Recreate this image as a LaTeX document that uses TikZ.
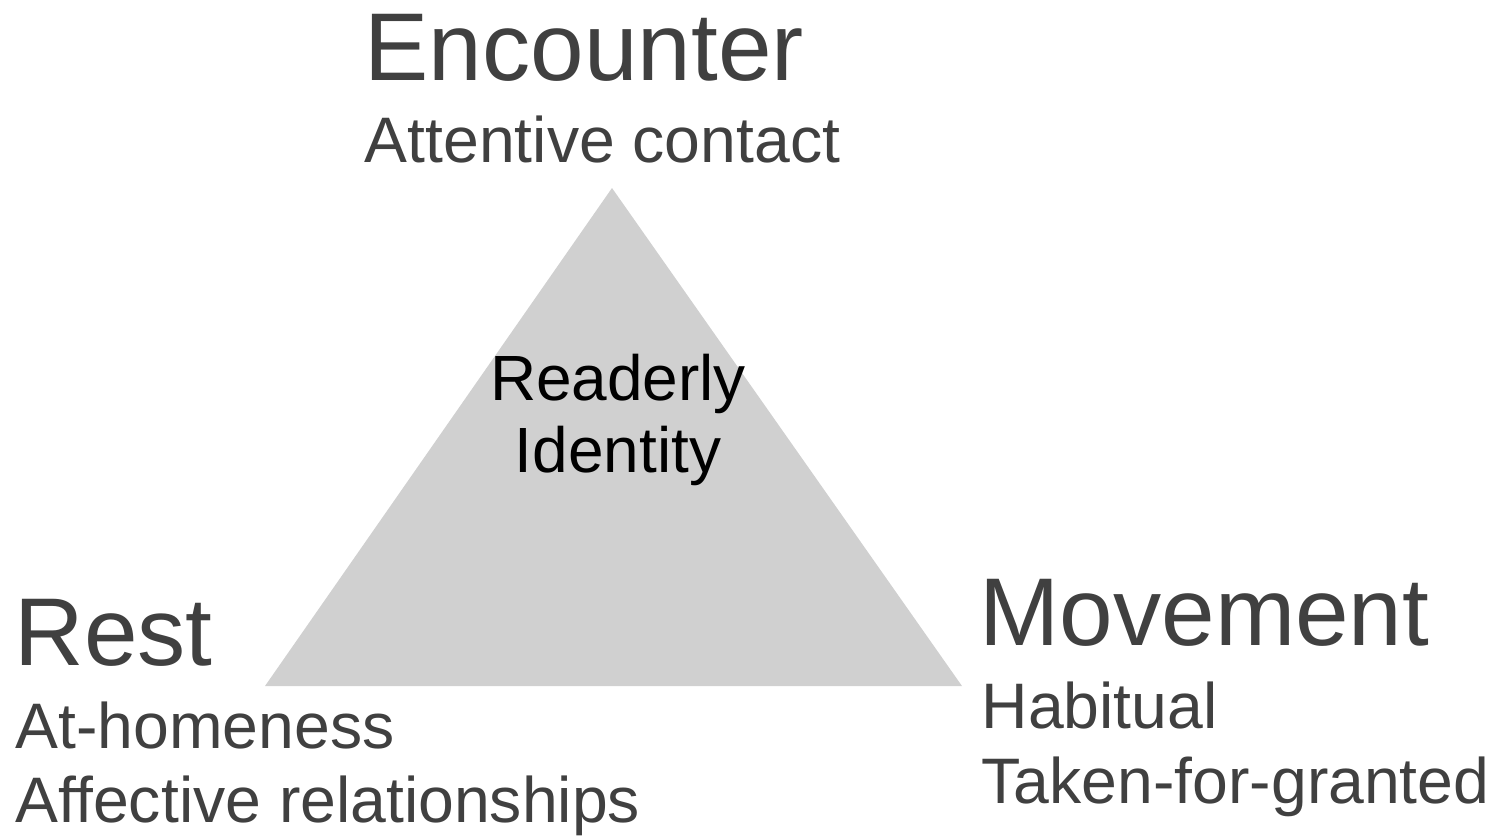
\documentclass[tikz,border=0pt]{standalone}
\usepackage{fontspec}
\setmainfont{Liberation Sans}
\usepackage{tikz}
\pgfdeclarelayer{edgelayer}
\pgfdeclarelayer{nodelayer}
\pgfsetlayers{edgelayer,nodelayer,main}
\definecolor{txtgrey}{HTML}{404040}
\definecolor{trifill}{HTML}{D0D0D0}
\tikzstyle{none} = [inner sep=0pt]
\tikzstyle{head} = [inner sep=0pt, anchor=base west, text=txtgrey, font=\fontsize{27.4}{32}\selectfont]
\tikzstyle{sub} = [inner sep=0pt, anchor=base west, text=txtgrey, font=\fontsize{18.3}{21}\selectfont]
\tikzstyle{core} = [inner sep=0pt, anchor=base, text=black, font=\fontsize{18.2}{21}\selectfont]

\begin{document}
\begin{tikzpicture}
	\useasboundingbox (0, 0) rectangle (15, -8.36);
	\begin{pgfonlayer}{nodelayer}
		\node [style=none] (top) at (6.12, -1.88) {};
		\node [style=none] (left) at (2.65, -6.86) {};
		\node [style=none] (right) at (9.62, -6.86) {};
		\node [style=head] (enc) at (3.64, -0.80) {Encounter};
		\node [style=sub] (enc1) at (3.64, -1.62) {Attentive contact};
		\node [style=core] (id1) at (6.18, -4.00) {Readerly};
		\node [style=core] (id2) at (6.18, -4.72) {Identity};
		\node [style=head] (rest) at (0.14, -6.65) {Rest};
		\node [style=sub] (rest1) at (0.15, -7.48) {At-homeness};
		\node [style=sub] (rest2) at (0.15, -8.22) {Affective relationships};
		\node [style=head] (mov) at (9.79, -6.45) {Movement};
		\node [style=sub] (mov1) at (9.81, -7.28) {Habitual};
		\node [style=sub] (mov2) at (9.81, -8.03) {Taken-for-granted};
	\end{pgfonlayer}
	\begin{pgfonlayer}{edgelayer}
		\fill [trifill] (top.center) -- (left.center) -- (right.center) -- cycle;
	\end{pgfonlayer}
\end{tikzpicture}
\end{document}
